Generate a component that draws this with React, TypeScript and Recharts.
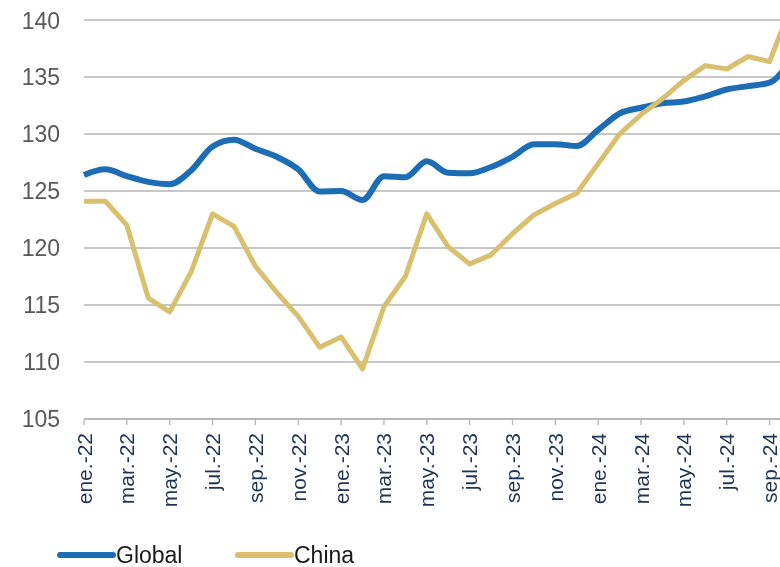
import React from 'react';
import { LineChart, Line, XAxis, YAxis, CartesianGrid, Legend } from 'recharts';

const months = [
  'ene.-22', 'feb.-22', 'mar.-22', 'abr.-22', 'may.-22', 'jun.-22', 'jul.-22', 'ago.-22', 'sep.-22', 'oct.-22', 'nov.-22', 'dic.-22',
  'ene.-23', 'feb.-23', 'mar.-23', 'abr.-23', 'may.-23', 'jun.-23', 'jul.-23', 'ago.-23', 'sep.-23', 'oct.-23', 'nov.-23', 'dic.-23',
  'ene.-24', 'feb.-24', 'mar.-24', 'abr.-24', 'may.-24', 'jun.-24', 'jul.-24', 'ago.-24', 'sep.-24', 'oct.-24',
];

const globalValues = [
  126.4, 126.9, 126.3, 125.8, 125.6, 126.8, 128.9, 129.5, 128.7, 128.0, 126.9, 124.95,
  125.0, 124.2, 126.3, 126.2, 127.6, 126.6, 126.55, 127.1, 128.0, 129.1, 129.1, 128.95,
  130.35, 131.8, 132.3, 132.7, 132.85, 133.3, 133.9, 134.2, 134.5, 136.6,
];

const chinaValues = [
  124.1, 124.1, 122.0, 115.6, 114.4, 117.9, 123.0, 121.9, 118.4, 116.1, 114.0, 111.3,
  112.2, 109.4, 114.85, 117.5, 123.0, 120.1, 118.6, 119.4, 121.25, 122.9, 123.9, 124.8,
  127.4, 130.0, 131.7, 133.1, 134.7, 136.0, 135.7, 136.8, 136.35, 141.2,
];

const yTicks = [105, 110, 115, 120, 125, 130, 135, 140];

const data = months.map((m, i) => ({ month: m, Global: globalValues[i], China: chinaValues[i] }));

const FONT = '"Liberation Sans", Arial, sans-serif';
const BLUE = '#1C6DB5';
const TAN = '#D8C06F';
const GRID = '#B5B5B5';

const XTick = (props: any) => {
  const { x, y, payload } = props;
  return (
    <text
      x={0}
      y={0}
      transform={`translate(${x + 7.5},${y + 6}) rotate(-90)`}
      textAnchor="end"
      fontFamily={FONT}
      fontSize={21}
      fill="#1F3556"
    >
      {payload.value}
    </text>
  );
};

const LegendContent = () => {
  const items = [
    { name: 'Global', color: BLUE, x: 49 },
    { name: 'China', color: TAN, x: 227 },
  ];
  return (
    <svg width={420} height={28} style={{ display: 'block' }}>
      {items.map((it) => (
        <g key={it.name}>
          <line x1={it.x + 3} y1={16} x2={it.x + 56} y2={16} stroke={it.color} strokeWidth={6} strokeLinecap="round" />
          <text x={it.x + 59} y={24} fontFamily={FONT} fontSize={23} fill="#1a1a1a">
            {it.name}
          </text>
        </g>
      ))}
    </svg>
  );
};

export default function App() {
  return (
    <div style={{ position: 'fixed', top: 8, left: 8, width: 772, height: 559, overflow: 'hidden' }}>
      <LineChart
        width={793}
        height={559}
        data={data}
        margin={{ top: 12, right: 10, left: 0, bottom: 0 }}
      >
        <CartesianGrid vertical={false} stroke={GRID} strokeWidth={1.3} />
        <XAxis
          dataKey="month"
          interval={1}
          height={120}
          tick={<XTick />}
          tickLine={{ stroke: GRID, strokeWidth: 1.3 }}
          tickSize={6}
          axisLine={{ stroke: GRID, strokeWidth: 1.3 }}
          padding={{ left: 0, right: 0 }}
        />
        <YAxis
          width={76}
          domain={[105, 140]}
          ticks={yTicks}
          allowDataOverflow
          tickLine={false}
          axisLine={false}
          tickSize={0}
          tickMargin={24}
          tick={{ fontFamily: FONT, fontSize: 23, fill: '#595959' }}
        />
        <Legend
          verticalAlign="bottom"
          align="left"
          content={<LegendContent />}
          wrapperStyle={{ height: 28 }}
        />
        <Line
          type="monotone"
          dataKey="Global"
          stroke={BLUE}
          strokeWidth={6}
          dot={false}
          isAnimationActive={false}
        />
        <Line
          type="linear"
          dataKey="China"
          stroke={TAN}
          strokeWidth={5}
          dot={false}
          strokeLinejoin="round"
          isAnimationActive={false}
        />
      </LineChart>
    </div>
  );
}
